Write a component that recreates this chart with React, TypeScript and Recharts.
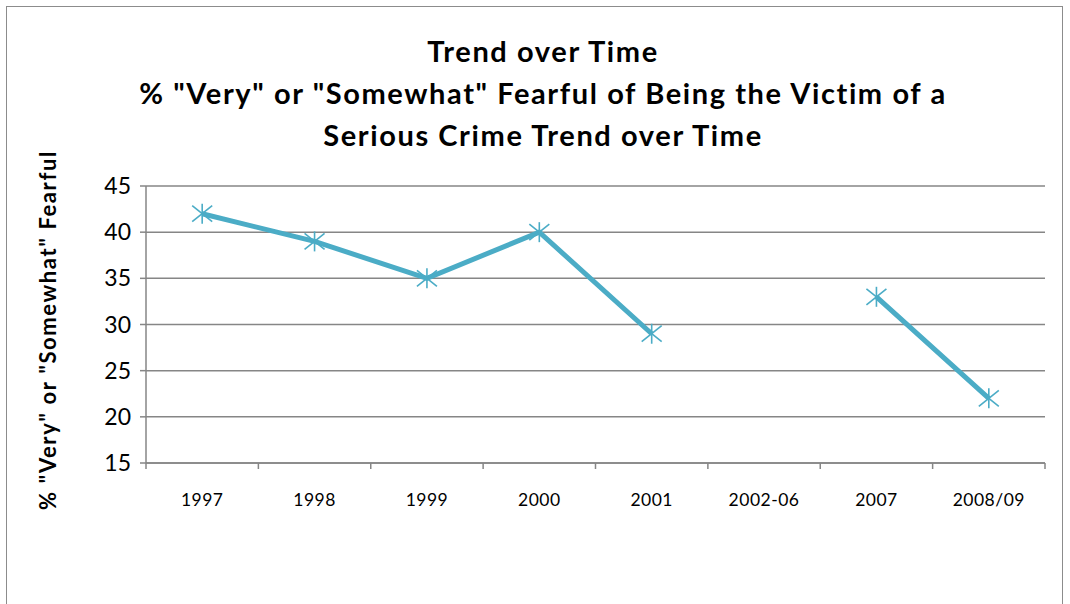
import React from "react";
import { LineChart, Line, XAxis, YAxis, CartesianGrid } from "recharts";

const categories = ["1997", "1998", "1999", "2000", "2001", "2002-06", "2007", "2008/09"];
const fearful: (number | null)[] = [42, 39, 35, 40, 29, null, 33, 22];
const yTicks = [15, 20, 25, 30, 35, 40, 45];

const titleLines = [
  "Trend over Time",
  '% "Very" or "Somewhat" Fearful of Being the Victim of a',
  "Serious Crime Trend over Time",
];
const yTitle = '% "Very" or "Somewhat" Fearful';

const data = categories.map((c, i) => ({ year: c, value: fearful[i] }));

const LINE = "#4BACC6";
const GRID = "#868686";
const FONT = "Lato, 'Open Sans', sans-serif";

const TICK_SIZE = 6;
const TICK_MARGIN = 25;

function BoundaryTick(props: any) {
  const { x, y, payload, index, width, visibleTicksCount } = props;
  const half = payload?.offset || width / visibleTicksCount / 2;
  const axisY = y - TICK_SIZE - TICK_MARGIN;
  return (
    <g>
      <line x1={x - half} x2={x - half} y1={axisY} y2={axisY + TICK_SIZE} stroke={GRID} strokeWidth={1.5} />
      {index === visibleTicksCount - 1 && (
        <line x1={x + half} x2={x + half} y1={axisY} y2={axisY + TICK_SIZE} stroke={GRID} strokeWidth={1.5} />
      )}
      <text x={x} y={y} dy="0.71em" textAnchor="middle" fontSize={17.5} letterSpacing={0.5} fill="#000" fontFamily={FONT}>
        {payload.value}
      </text>
    </g>
  );
}

function StarDot(props: any) {
  const { cx, cy, index } = props;
  if (cx == null || cy == null || props.value == null) return <g key={`d${index}`} />;
  const r = 10;
  return (
    <g key={`d${index}`} stroke={LINE} strokeWidth={1.6}>
      <line x1={cx - r} y1={cy - r * 0.8} x2={cx + r} y2={cy + r * 0.8} />
      <line x1={cx - r} y1={cy + r * 0.8} x2={cx + r} y2={cy - r * 0.8} />
      <line x1={cx} y1={cy - r} x2={cx} y2={cy + r} />
    </g>
  );
}

export default function App() {
  return (
    <div style={{ position: "absolute", left: 0, top: 0, width: 1070, height: 604, background: "#fff", overflow: "hidden", fontFamily: FONT }}>
      <div
        style={{
          position: "absolute",
          left: 6,
          top: 6,
          width: 1057,
          height: 700,
          border: "1.5px solid #8c8c8c",
          boxSizing: "border-box",
        }}
      />
      <div
        style={{
          position: "absolute",
          left: 0,
          top: 30,
          width: 1086,
          textAlign: "center",
          fontWeight: 700,
          fontSize: 29,
          letterSpacing: 1.6,
          lineHeight: "42px",
          color: "#000",
        }}
      >
        {titleLines.map((t) => (
          <div key={t}>{t}</div>
        ))}
      </div>
      <div
        style={{
          position: "absolute",
          left: 47,
          top: 330,
          transform: "translate(-50%, -50%) rotate(-90deg)",
          whiteSpace: "nowrap",
          fontWeight: 700,
          fontSize: 22,
          letterSpacing: 1.6,
          color: "#000",
        }}
      >
        {yTitle}
      </div>
      <div style={{ position: "absolute", left: 0, top: 0 }}>
        <LineChart width={1070} height={604} data={data} margin={{ top: 186, right: 25, bottom: 99, left: 86 }}>
          <CartesianGrid vertical={false} stroke={GRID} strokeWidth={1.5} />
          <XAxis
            dataKey="year"
            scale="band"
            height={42}
            axisLine={{ stroke: GRID, strokeWidth: 1.5 }}
            tickLine={false}
            tickSize={TICK_SIZE}
            tickMargin={TICK_MARGIN}
            interval={0}
            tick={<BoundaryTick />}
          />
          <YAxis
            width={60}
            domain={[15, 45]}
            ticks={yTicks}
            interval={0}
            axisLine={{ stroke: GRID, strokeWidth: 1.5 }}
            tickLine={{ stroke: GRID, strokeWidth: 1.5 }}
            tickSize={6}
            tickMargin={9}
            tick={{ fontSize: 23, fill: "#000", fontFamily: FONT }}
          />
          <Line
            dataKey="value"
            stroke={LINE}
            strokeWidth={5}
            connectNulls={false}
            dot={StarDot}
            activeDot={false}
            isAnimationActive={false}
          />
        </LineChart>
      </div>
    </div>
  );
}
